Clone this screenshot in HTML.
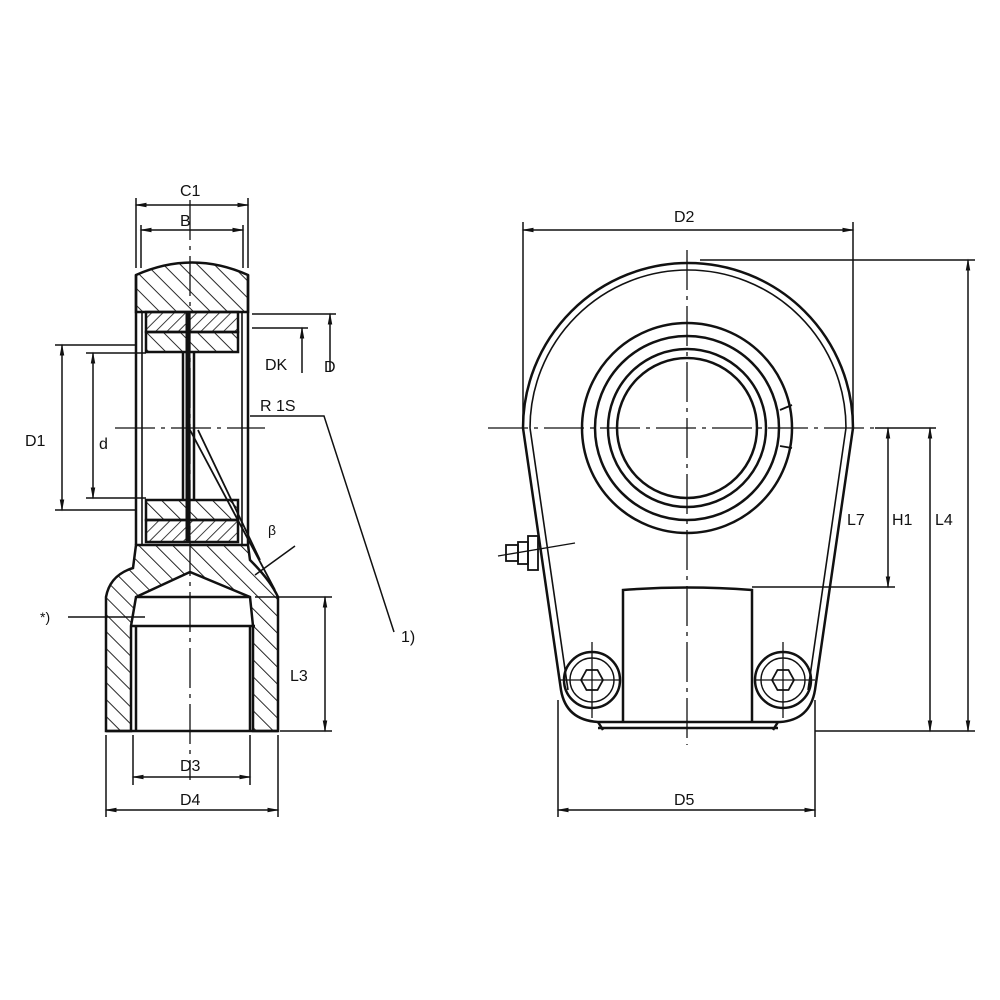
<!DOCTYPE html>
<html><head><style>
html,body{margin:0;padding:0;background:#fff;}
svg{display:block;}
text{font-family:"Liberation Sans",sans-serif;font-size:16px;fill:#111;}
</style></head><body>
<svg width="1000" height="1000" viewBox="0 0 1000 1000" xmlns="http://www.w3.org/2000/svg">
<defs>
<pattern id="h1" width="12" height="12" patternUnits="userSpaceOnUse" patternTransform="rotate(-45)">
<line x1="0" y1="0" x2="0" y2="12" stroke="#111" stroke-width="1.8"/></pattern>
<pattern id="h2" width="8" height="8" patternUnits="userSpaceOnUse" patternTransform="rotate(45)">
<line x1="0" y1="0" x2="0" y2="8" stroke="#111" stroke-width="1.6"/></pattern>
<marker id="a" markerWidth="8" markerHeight="8" refX="7" refY="4" orient="auto-start-reverse"><path d="M0,2.5 L8,4 L0,5.5z" fill="#111"/></marker>
</defs>
<g stroke="#111" fill="none" stroke-width="2.5">
<!-- LEFT VIEW -->
<path d="M136,275 Q192,250 248,275 L248,312 L136,312 Z" fill="url(#h1)"/>
<rect x="146" y="312" width="92" height="20" fill="url(#h2)"/>
<rect x="146" y="332" width="92" height="20" fill="url(#h1)"/>
<rect x="146" y="500" width="92" height="20" fill="url(#h1)"/>
<rect x="146" y="520" width="92" height="22" fill="url(#h2)"/>
<line x1="188" y1="312" x2="188" y2="542" stroke-width="5"/>
<line x1="194" y1="352" x2="194" y2="500"/>
<line x1="183" y1="352" x2="183" y2="500"/>
<line x1="136" y1="275" x2="136" y2="545"/>
<line x1="248" y1="275" x2="248" y2="545"/>
<line x1="142" y1="312" x2="142" y2="545" stroke-width="1.6"/>
<line x1="242" y1="312" x2="242" y2="545" stroke-width="1.6"/>
<path d="M136,545 L248,545 L250,560 Q270,580 278,597 L278,731 L253,731 L253,626 L250,597 L190,572 L136,597 L131,626 L131,731 L106,731 L106,597 Q110,575 133,568 Z" fill="url(#h1)"/>
<line x1="136" y1="597" x2="250" y2="597"/>
<line x1="131" y1="626" x2="255" y2="626"/>
<line x1="136" y1="626" x2="136" y2="731"/>
<line x1="250" y1="626" x2="250" y2="731"/>
<line x1="106" y1="731" x2="278" y2="731"/>
<line x1="190" y1="430" x2="275" y2="590" stroke-width="1.8"/>
<line x1="198" y1="430" x2="260" y2="560" stroke-width="1.8"/>
<line x1="190" y1="200" x2="190" y2="780" stroke-width="1.3" stroke-dasharray="40,6,4,6"/>
<line x1="115" y1="428" x2="265" y2="428" stroke-width="1.3" stroke-dasharray="40,6,4,6"/>
<g stroke-width="1.5">
<line x1="136" y1="198" x2="136" y2="268"/><line x1="248" y1="198" x2="248" y2="268"/>
<line x1="136" y1="205" x2="248" y2="205" marker-start="url(#a)" marker-end="url(#a)"/>
<line x1="141" y1="225" x2="141" y2="268"/><line x1="243" y1="225" x2="243" y2="268"/>
<line x1="141" y1="230" x2="243" y2="230" marker-start="url(#a)" marker-end="url(#a)"/>
<line x1="55" y1="345" x2="136" y2="345"/><line x1="55" y1="510" x2="136" y2="510"/>
<line x1="62" y1="345" x2="62" y2="510" marker-start="url(#a)" marker-end="url(#a)"/>
<line x1="86" y1="353" x2="146" y2="353"/><line x1="86" y1="498" x2="146" y2="498"/>
<line x1="93" y1="353" x2="93" y2="498" marker-start="url(#a)" marker-end="url(#a)"/>
<line x1="252" y1="314" x2="336" y2="314"/><line x1="252" y1="328" x2="308" y2="328"/>
<line x1="330" y1="314" x2="330" y2="372" marker-start="url(#a)"/>
<line x1="302" y1="328" x2="302" y2="373" marker-start="url(#a)"/>
<polyline points="250,416 324,416 394,632"/>
<line x1="255" y1="575" x2="295" y2="546"/>
<line x1="255" y1="597" x2="332" y2="597"/><line x1="280" y1="731" x2="332" y2="731"/>
<line x1="325" y1="597" x2="325" y2="731" marker-start="url(#a)" marker-end="url(#a)"/>
<line x1="133" y1="735" x2="133" y2="785"/><line x1="250" y1="735" x2="250" y2="785"/>
<line x1="133" y1="777" x2="250" y2="777" marker-start="url(#a)" marker-end="url(#a)"/>
<line x1="106" y1="735" x2="106" y2="817"/><line x1="278" y1="735" x2="278" y2="817"/>
<line x1="106" y1="810" x2="278" y2="810" marker-start="url(#a)" marker-end="url(#a)"/>
<line x1="68" y1="617" x2="145" y2="617"/>
</g>
<!-- RIGHT VIEW -->
<path d="M523,428 A165,165 0 0 1 853,428 L815,690 Q810,720 780,722 L598,722 Q566,720 561,690 Z"/>
<path d="M530,428 A158,158 0 0 1 846,428 L808,690" stroke-width="1.6"/>
<path d="M530,428 L568,690" stroke-width="1.6"/>
<line x1="598" y1="728" x2="778" y2="728"/>
<line x1="598" y1="722" x2="603" y2="730"/><line x1="778" y1="722" x2="773" y2="730"/>
<circle cx="687" cy="428" r="105"/>
<circle cx="687" cy="428" r="92"/>
<circle cx="687" cy="428" r="79"/>
<circle cx="687" cy="428" r="70"/>
<path d="M780,410 L792,405 M780,446 L792,448" stroke-width="1.8"/>
<path d="M623,722 L623,590 Q687,585 752,590 L752,722"/>
<circle cx="592" cy="680" r="28"/>
<circle cx="783" cy="680" r="28"/>
<circle cx="592" cy="680" r="22" stroke-width="1.4"/>
<circle cx="783" cy="680" r="22" stroke-width="1.4"/>
<polygon points="581,680 586.5,670 597.5,670 603,680 597.5,690 586.5,690" stroke-width="1.8"/>
<polygon points="772,680 777.5,670 788.5,670 794,680 788.5,690 777.5,690" stroke-width="1.8"/>
<g stroke-width="1.3"><line x1="592" y1="642" x2="592" y2="718"/><line x1="560" y1="680" x2="620" y2="680"/>
<line x1="783" y1="642" x2="783" y2="718"/><line x1="755" y1="680" x2="815" y2="680"/></g>
<g stroke-width="1.8"><rect x="528" y="536" width="10" height="34"/><rect x="518" y="542" width="10" height="22"/><rect x="506" y="545" width="12" height="16"/>
<line x1="498" y1="556" x2="575" y2="543" stroke-width="1.3"/></g>
<line x1="687" y1="250" x2="687" y2="745" stroke-width="1.3" stroke-dasharray="40,6,4,6"/>
<line x1="488" y1="428" x2="875" y2="428" stroke-width="1.3" stroke-dasharray="40,6,4,6"/>
<g stroke-width="1.5">
<line x1="523" y1="222" x2="523" y2="428"/><line x1="853" y1="222" x2="853" y2="428"/>
<line x1="523" y1="230" x2="853" y2="230" marker-start="url(#a)" marker-end="url(#a)"/>
<line x1="558" y1="700" x2="558" y2="817"/><line x1="815" y1="700" x2="815" y2="817"/>
<line x1="558" y1="810" x2="815" y2="810" marker-start="url(#a)" marker-end="url(#a)"/>
<line x1="700" y1="260" x2="975" y2="260"/>
<line x1="875" y1="428" x2="936" y2="428"/>
<line x1="752" y1="587" x2="895" y2="587"/>
<line x1="815" y1="731" x2="975" y2="731"/>
<line x1="888" y1="428" x2="888" y2="587" marker-start="url(#a)" marker-end="url(#a)"/>
<line x1="930" y1="428" x2="930" y2="731" marker-start="url(#a)" marker-end="url(#a)"/>
<line x1="968" y1="260" x2="968" y2="731" marker-start="url(#a)" marker-end="url(#a)"/>
</g>
</g>
<text x="180" y="196">C1</text>
<text x="180" y="226">B</text>
<text x="25" y="446">D1</text>
<text x="99" y="449">d</text>
<text x="265" y="370">DK</text>
<text x="324" y="372">D</text>
<text x="260" y="411">R 1S</text>
<text x="268" y="535" style="font-size:14px">β</text>
<text x="40" y="622" style="font-size:14px">*)</text>
<text x="401" y="642">1)</text>
<text x="290" y="681">L3</text>
<text x="180" y="771">D3</text>
<text x="180" y="805">D4</text>
<text x="674" y="222">D2</text>
<text x="674" y="805">D5</text>
<text x="847" y="525">L7</text>
<text x="892" y="525">H1</text>
<text x="935" y="525">L4</text>
</svg>
</body></html>
